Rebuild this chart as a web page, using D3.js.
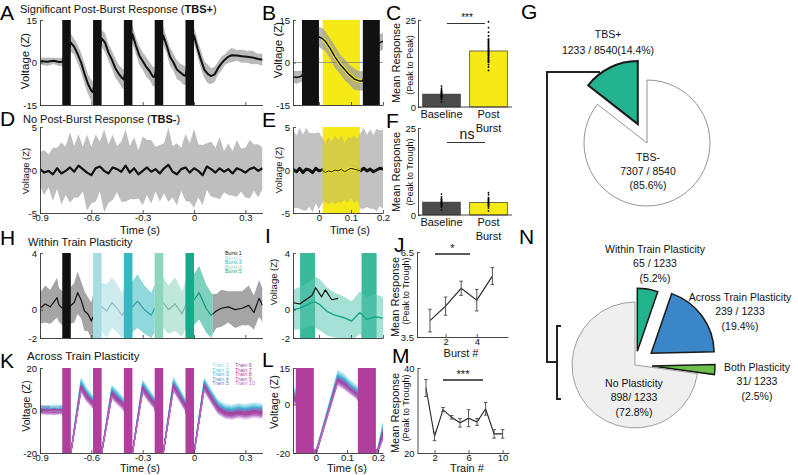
<!DOCTYPE html>
<html>
<head>
<meta charset="utf-8">
<script src="https://cdn.jsdelivr.net/npm/d3@7"></script>
<style>
  body { margin: 0; background: #fff; }
  svg { font-family: "Liberation Sans", Arial, sans-serif; }
</style>
</head>
<body>
<svg id="fig" width="798" height="475"></svg>
<script>
// ---------- data ----------
var burstStarts = [-0.77, -0.59, -0.41, -0.23, -0.05];
var burstWidth = 0.05;
var xTicksLong = [-0.9, -0.6, -0.3, 0, 0.3];
var xTicksShort = [0, 0.1, 0.2];

// A: TBS+ mean trace and spread of single traces
var aTime = [-0.9,-0.86,-0.82,-0.79,-0.77,-0.745,-0.72,-0.7,-0.68,-0.66,-0.64,-0.62,-0.6,-0.59,-0.565,-0.54,-0.52,-0.5,-0.48,-0.46,-0.44,-0.42,-0.41,-0.385,-0.36,-0.34,-0.32,-0.3,-0.28,-0.26,-0.24,-0.23,-0.205,-0.18,-0.16,-0.14,-0.12,-0.1,-0.08,-0.06,-0.05,-0.025,0,0.02,0.04,0.06,0.08,0.1,0.12,0.14,0.16,0.18,0.2,0.22,0.25,0.28,0.31,0.34,0.37,0.4];
var aMean = [0.5,0.3,0.6,0.2,0.3, 3,7,5.5,3,0, -4,-7.5,-10,-10.5,0, 8.5,7,3.5,1,-2, -4,-5.5,-6,2,10, 6,2.5,0.5,-1.5,-3, -5,-5,2,9.5,6, 2,0,-2.5,-3.5,-4.5, -4.7,2,9.5,5,1, -2.5,-4,-4.8,-4.2,-2, -0.3,1,2,2.6,2.5, 2.2,2,1.8,1.3,1];
var aSpread = [1.2,1.5,1.1,1.4,1.5, 3,3.2,2.8,3.3,3.4, 3.7,3.4,3.9,3.8,3, 3,3.3,2.9,3.2,3.4, 3.1,3.5,3.4,3,3.2, 2.9,3.3,3.1,3.4,3.2, 3.5,3.3,3,3.1,2.9, 3.2,3,3.3,3.1,3.4, 3.2,3,3.1,2.9,3.2, 3,3.3,2.8,2.7,2.3, 2.4,1.9,2.2,2.5,1.9, 2.3,2.1,2.4,1.8,2.2];

// B: zoom on last burst
var bBarStarts = [-0.053, 0.137];
var bBarWidth = 0.053;
var yellowWin = [0.012, 0.128];
var bTime = [-0.081,-0.07,-0.06,-0.053,-0.03,0,0.01,0.02,0.035,0.05,0.065,0.08,0.095,0.11,0.125,0.137,0.16,0.19,0.2];
var bMean = [-5,-5.3,-5,-4.8,3,9,8.5,7.5,5,2,-0.5,-2.5,-4.3,-5.8,-6.5,-6.5,2,7,7.5];
var bSpread = [2,2.3,2,2,3,3.5,3.8,3.4,3.6,3.9,3.4,3.7,3.5,3.8,3.4,3.5,3,3,3];

// C / F: bar charts
var barCats = ["Baseline", "Post Burst"];
var cMeans = [3.7, 16.1];
var cErr = [1.2, 3.5];
var cBaseDots = [1.5,2.2,2.6,3.0,3.3,3.6,3.9,4.2,4.5,4.9,5.4,6.0];
var cPostDots = [10.5,11.5,12.2,13,13.6,14.2,14.8,15.3,15.8,16.3,16.8,17.4,18,18.7,19.5,20.4,21.5,22.8,24.5];
var fMeans = [3.7, 3.6];
var fErr = [1.3, 1.4];
var fBaseDots = [1.5,2.3,2.8,3.2,3.6,4.0,4.5,5.2,6.0];
var fPostDots = [1.2,2.0,2.7,3.1,3.5,3.9,4.4,5.0,5.8,6.4];

// D: TBS- mean trace
var dTime = [-0.9,-0.875,-0.85,-0.825,-0.8,-0.775,-0.75,-0.725,-0.7,-0.675,-0.65,-0.625,-0.6,-0.575,-0.55,-0.525,-0.5,-0.475,-0.45,-0.425,-0.4,-0.375,-0.35,-0.325,-0.3,-0.275,-0.25,-0.225,-0.2,-0.175,-0.15,-0.125,-0.1,-0.075,-0.05,-0.025,0,0.025,0.05,0.075,0.1,0.125,0.15,0.175,0.2,0.225,0.25,0.275,0.3,0.325,0.35,0.375,0.4];
var dMean = [0.1,-0.3,-0.1,-0.5,0.2,-0.4,-0.1,0.3,-0.2,0.5, 0.1,-0.3,-0.6,0.2,0.4,-0.1,-0.4,0.3,0.1,-0.2, 0.5,-0.3,0.2,-0.5,-0.1,0.3,-0.2,0.1,-0.4,0.2, 0.6,-0.2,-0.5,0.1,0.3,-0.3,0.2,-0.1,-0.6,0.4, 0.1,-0.3,0.2,-0.2,0.1,-0.4,0.2,0,-0.3,0.1, 0.3,-0.1,0.2];
var dSpread = [2.0,2.6,1.9,3.1,2.4,3.6,2.8,4.1,3.0,3.7, 2.6,4.4,3.3,3.9,2.9,4.8,3.4,3.8,2.7,3.5, 4.2,3.1,3.6,2.8,4.0,3.2,3.7,2.6,3.3,2.9, 4.3,3.0,3.6,2.5,3.9,3.4,4.6,3.1,3.5,2.7, 3.2,2.9,3.6,2.4,3.0,2.6,3.3,2.5,2.9,3.4, 2.7,3.1,2.4];

// E
var eTime = [-0.081,-0.07,-0.06,-0.05,-0.04,-0.03,-0.02,-0.01,0,0.01,0.02,0.03,0.04,0.05,0.06,0.07,0.08,0.09,0.1,0.11,0.12,0.13,0.14,0.15,0.16,0.17,0.18,0.19,0.2];
var eMean = [0.1,-0.2,0.2,-0.3,0.1,0,-0.3,0.2,-0.1,0,-0.3,-0.1,-0.2,0,-0.1,0.1,-0.2,0,0.2,0.1,0,-0.1,0.2,-0.1,0.1,-0.2,0,0.2,0.1];
var eSpread = [4.6,4.2,4.7,4.4,4.8,4.3,4.6,4.1,4.5,3.8,3.4,3.9,3.5,4.0,3.6,3.9,3.3,3.8,3.5,3.9,3.6,4.4,4.7,4.2,4.6,4.3,4.8,4.4,4.6];

// H: within-train
var burstNames = ["Burst 1","Burst 2","Burst 3","Burst 4","Burst 5"];
var burstColors = ["#111111","#a6dde3","#35b8c0","#8dd6bc","#16ab88"];
var hSegEdges = [-0.9, -0.59, -0.41, -0.23, -0.05, 0.11, 0.4];
var hSegBurst = [0, 1, 2, 3, 4, 0];
var hTime = [-0.9,-0.87,-0.84,-0.8,-0.79,-0.77,-0.72,-0.7,-0.68,-0.66,-0.64,-0.62,-0.6,-0.59,-0.54,-0.51,-0.48,-0.45,-0.42,-0.41,-0.36,-0.33,-0.29,-0.25,-0.23,-0.18,-0.15,-0.11,-0.07,-0.05,0,0.03,0.07,0.1,0.11,0.13,0.16,0.2,0.24,0.28,0.32,0.35,0.38,0.4];
var hMean = [0.1,0.4,0.2,0.85,0.35,0.1,0.3,0.5,1.2,0.7,-0.1,-0.3,-0.8,-0.5,0.2,-0.1,0.5,0.1,-0.4,-0.2,0.2,0.6,0,-0.4,0.1,0.5,0,0.4,-0.3,0.3,0.7,1.2,0.1,-0.4,-0.3,-0.1,0.1,0.2,0,0.1,0.3,-0.2,0.8,0.3];
var hSpread = [1.1,1.3,1.2,1.4,1.2,1.2,1.3,1.4,1.5,1.3,1.4,1.2,1.3,1.6, 1.7,1.9,1.8,1.7,1.6,1.7, 1.8,1.9,1.7,1.6,1.7, 1.8,1.7,1.9,1.6,1.7, 1.8,1.9,1.7,1.6,1.4, 1.2,1.3,1.1,1.3,1.2,1.4,1.2,1.3,1.2];

// I
var iBarStarts = [-0.059, 0.133];
var iBarWidth = 0.047;
var iTime = [-0.081,-0.06,-0.022,-0.0125,0.003,0.024,0.045,0.076,0.102,0.128,0.149,0.175,0.2];
var iTeal = [0,0.1,0.5,0.55,0.35,-0.1,-0.35,-0.55,-0.8,-0.2,-0.7,-0.5,-0.6];
var iSpread = [1.4,1.5,1.6,1.8,1.8,1.7,1.6,1.5,1.4,1.5,1.6,1.6,1.5];
var iBlackTime = [-0.081,-0.06,-0.022,-0.01,0.008,0.02,0.04,0.06];
var iBlack = [0.5,0.4,1.0,1.55,0.9,1.4,0.7,0.8];

// J
var jBurst = [1,2,3,4,5];
var jMean = [4.08,4.59,5.22,4.8,5.65];
var jErr = [0.4,0.32,0.25,0.38,0.3];

// K: across-train
var trainNames = ["Train 1","Train 2","Train 3","Train 4","Train 5","Train 6","Train 7","Train 8","Train 9","Train 10"];
var trainColors = ["#8fdcea","#5fc6de","#47aed3","#5b90cb","#7a7cc4","#8e4fa8","#a8409e","#ba3f98","#9a55ae","#b46ec6"];
var kTime = [-0.9,-0.86,-0.82,-0.77,-0.72,-0.66,-0.63,-0.59,-0.54,-0.48,-0.45,-0.41,-0.36,-0.30,-0.27,-0.23,-0.18,-0.12,-0.09,-0.05,0,0.06,0.1,0.14,0.18,0.22,0.26,0.3,0.35,0.4];
var kTrain1 = [1.5,0.5,1.8,1.2,-20,14.5,10,6,-20,11,8.5,5,-20,13.5,10,5.5,-20,15,10.5,4.5,-20,14.5,9,4,2,1.5,2.2,1.8,2.5,2];
var kTrain2 = [1,1.2,0.6,1.5,-20,14,9.5,5.5,-20,10.5,8,4.5,-20,13,9.5,5,-20,14,10,4,-20,14,8.5,3.5,1.5,1,1.8,1.2,2,1.6];
var kTrain3 = [0.5,1,0.3,0.8,-20,13,9,5,-20,10,7.5,4,-20,12.5,9,4.5,-20,13.5,9.5,3.5,-20,13.5,8,3,1,0.5,1.2,0.8,1.5,1];
var kTrain4 = [1.2,0.2,0.9,0.4,-20,12.5,8.5,4.5,-20,9.5,7,3.5,-20,12,8.5,4,-20,13,9,3,-20,13,7.5,2.5,0.5,0,0.8,0.2,1,0.6];
var kTrain5 = [0.3,0.8,0.1,0.6,-20,12,8,4.5,-20,9,6.5,3.5,-20,11.5,8,4,-20,12.5,8.5,3,-20,12.5,7,2,0,-0.5,0.3,-0.2,0.5,0.2];
var kTrain6 = [0.8,-0.2,0.5,0,-20,11.5,7.5,4,-20,8.5,6,3,-20,11,7.5,3.5,-20,12,8,2.5,-20,12,6.5,1.5,-0.5,-1,-0.3,-0.8,0,-0.4];
var kTrain7 = [-0.2,0.5,-0.5,0.3,-20,11,7,3.5,-20,8,5.5,2.5,-20,10.5,7,3,-20,11.5,7.5,2,-20,11.5,6,1,-1,-1.5,-0.8,-1.2,-0.5,-1];
var kTrain8 = [0.4,-0.6,0.2,-0.3,-20,10.5,6.5,3,-20,7.5,5,2,-20,10,6.5,2.5,-20,11,7,1.5,-20,11,5.5,0.5,-1.5,-2,-1.2,-1.8,-1,-1.5];
var kTrain9 = [-0.5,0.2,-0.8,0,-20,10,6,2.5,-20,7,4.5,1.5,-20,9.5,6,2,-20,10.5,6.5,1,-20,10.5,5,0,-2,-2.5,-1.8,-2.3,-1.5,-2];
var kTrain10 = [0,-0.8,-0.3,-0.5,-20,9.5,5.5,2,-20,6.5,4,1,-20,9,5.5,1.5,-20,10,6,0.5,-20,10,4.5,-0.5,-2.5,-3,-2.2,-2.8,-2,-2.5];
var kTrains = [kTrain1,kTrain2,kTrain3,kTrain4,kTrain5,kTrain6,kTrain7,kTrain8,kTrain9,kTrain10];
var kSpread = 1.5;

// L
var lBarStarts = [-0.065, 0.135];
var lBarWidth = 0.058;
var lTime = [-0.074,-0.065,-0.01,0,0.07,0.09,0.11,0.135,0.16,0.197,0.216];
var lTrains = [
  [6,5.5,-20,-20,13,11.5,9,6.5,-20,-20,-8],
  [5.5,5,-20,-20,12.5,11,8.5,6,-20,-20,-8.5],
  [5,4.5,-20,-20,12,10.5,8,5.5,-20,-20,-9],
  [4.5,4,-20,-20,11.5,10,7.5,5,-20,-20,-10],
  [4,3.5,-20,-20,11,9.5,7,4.5,-20,-20,-10.5],
  [3.5,3,-20,-20,10.5,9,6.5,4,-20,-20,-11],
  [3,2.5,-20,-20,10,8.5,6.5,4,-20,-20,-12],
  [2.5,2,-20,-20,10,8,6,3.5,-20,-20,-12.5],
  [2,1.5,-20,-20,9.5,8,6,3.5,-20,-20,-13],
  [1.5,1,-20,-20,9,7.5,5.5,3,-20,-20,-14]
];

// M
var mTrain = [1,2,3,4,5,6,7,8,9,10];
var mMean = [35.3,23.9,30.2,28.4,27.1,28.2,27.3,30.4,24.5,24.5];
var mErr = [2,1,0.5,0.4,1,2,0.8,1.5,1,1];

// G / N pies
var gNames = ["TBS+", "TBS-"];
var gCounts = [1233, 7307];
var gPct = ["14.4%", "85.6%"];
var nNames = ["Within Train Plasticity", "Across Train Plasticity", "Both Plasticity", "No Plasticity"];
var nCounts = [65, 239, 31, 898];
var nPct = ["5.2%", "19.4%", "2.5%", "72.8%"];

// ---------- drawing helpers ----------
var fig = d3.select("#fig");
var defs = fig.append("defs");
var clipN = 0;

function panel(xDom, xRng, yDom, yRng) {
  var p = {
    x: d3.scaleLinear().domain(xDom).range(xRng),
    y: d3.scaleLinear().domain(yDom).range(yRng)
  };
  var id = "clip" + (clipN++);
  defs.append("clipPath").attr("id", id).append("rect")
    .attr("x", xRng[0]).attr("y", yRng[1])
    .attr("width", xRng[1] - xRng[0]).attr("height", yRng[0] - yRng[1]);
  p.g = fig.append("g");
  p.plot = p.g.append("g").attr("clip-path", "url(#" + id + ")");
  p.top = yRng[1];
  p.h = yRng[0] - yRng[1];
  return p;
}

function styleAxis(a) {
  a.attr("font-family", null).attr("font-size", null);
  a.select(".domain").attr("stroke", "#333").attr("stroke-width", 0.9);
  a.selectAll(".tick line").attr("stroke", "#333").attr("stroke-width", 0.8);
  a.selectAll(".tick text").attr("font-size", 9.5).attr("fill", "#111");
}

function axes(p, yTicks, xTicks, showX) {
  var ya = d3.axisLeft(p.y).tickValues(yTicks).tickSize(-3).tickSizeOuter(0).tickPadding(3)
    .tickFormat(function(d) { return String(d); });
  styleAxis(p.g.append("g").attr("transform", "translate(" + p.x.range()[0] + ",0)").call(ya));
  var xa = d3.axisBottom(p.x).tickValues(xTicks).tickSize(-3).tickSizeOuter(0).tickPadding(1.5)
    .tickFormat(function(d) { return showX ? String(d) : ""; });
  styleAxis(p.g.append("g").attr("transform", "translate(0," + p.y.range()[0] + ")").call(xa));
}

function pts(ts, vals, spread) {
  return ts.map(function(t, i) {
    return { t: t, v: vals[i], s: spread == null ? 0 : (typeof spread === "number" ? spread : spread[i]) };
  });
}

function band(p, data, fill, op) {
  p.plot.append("path").datum(data)
    .attr("d", d3.area().x(function(d) { return p.x(d.t); })
      .y0(function(d) { return p.y(d.v - d.s); }).y1(function(d) { return p.y(d.v + d.s); }))
    .attr("fill", fill).attr("opacity", op);
}

function line(p, data, stroke, w) {
  return p.plot.append("path").datum(data)
    .attr("d", d3.line().x(function(d) { return p.x(d.t); }).y(function(d) { return p.y(d.v); }))
    .attr("fill", "none").attr("stroke", stroke).attr("stroke-width", w)
    .attr("stroke-linejoin", "round");
}

function bars(p, starts, width, fill, op) {
  p.plot.append("g").selectAll("rect").data(starts).join("rect")
    .attr("x", function(d) { return p.x(d); })
    .attr("width", function(d) { return p.x(d + width) - p.x(d); })
    .attr("y", p.top).attr("height", p.h)
    .attr("fill", fill).attr("opacity", op == null ? 1 : op);
}

function window_(p, win, fill, op) {
  p.plot.append("rect").attr("x", p.x(win[0])).attr("width", p.x(win[1]) - p.x(win[0]))
    .attr("y", p.top).attr("height", p.h).attr("fill", fill).attr("opacity", op == null ? 1 : op);
}

function label(x, y, s, size, anchor, fill, weight) {
  return fig.append("text").attr("x", x).attr("y", y).attr("font-size", size)
    .attr("text-anchor", anchor || "start").attr("fill", fill || "#111")
    .attr("font-weight", weight || "normal").text(s);
}

function vlabel(x, y, s, size) {
  return fig.append("text").attr("transform", "translate(" + x + "," + y + ") rotate(-90)")
    .attr("font-size", size).attr("text-anchor", "middle").attr("fill", "#111").text(s);
}

function letter(x, y, s) { return label(x, y, s, 21, "start", "#000"); }

var YELLOW = "#f6ea16";
var MAGENTA = "#b13d9c";

// ---------- A ----------
var pA = panel([-0.9, 0.4], [40, 262.5], [-15, 15], [105, 20]);
band(pA, pts(aTime, aMean, aSpread), "#a2a2a2", 0.75);
line(pA, pts(aTime, aMean), "#111", 2);
bars(pA, burstStarts, burstWidth, "#111");
axes(pA, [-15, 0, 15], xTicksLong, false);
letter(0, 20, "A");
var tA = label(20, 13, "Significant Post-Burst Response (", 11);
tA.append("tspan").attr("font-weight", "bold").text("TBS+");
tA.append("tspan").text(")");
vlabel(29, 61, "Voltage (Z)", 11.5);

// ---------- B ----------
var pB = panel([-0.081, 0.2], [293, 383], [-15, 15], [105, 20]);
window_(pB, yellowWin, YELLOW);
band(pB, pts(bTime, bMean, bSpread), "#9d9d9d", 0.75);
pB.plot.append("line").attr("x1", 293).attr("x2", 383).attr("y1", pB.y(0)).attr("y2", pB.y(0))
  .attr("stroke", "#888").attr("stroke-width", 0.8);
var bIn = pts(bTime, bMean).filter(function(d) { return d.t >= yellowWin[0] - 0.01 && d.t <= yellowWin[1] + 0.01; });
line(pB, bIn, YELLOW, 3.5);
line(pB, pts(bTime, bMean), "#111", 1.5);
bars(pB, bBarStarts, bBarWidth, "#111");
axes(pB, [-15, 0, 15], xTicksShort, false);
letter(262, 20, "B");
vlabel(282, 50, "Voltage (Z)", 11.5);

// ---------- C / F bar charts ----------
function barChart(yRng, means, errs, baseDots, postDots, top) {
  var x = d3.scaleBand().domain(barCats).range([418, 512]).paddingInner(0.2).paddingOuter(0.1);
  var y = d3.scaleLinear().domain([0, 25]).range(yRng);
  var g = fig.append("g");
  var colors = ["#4b4b4b", YELLOW];
  g.selectAll("rect").data(barCats).join("rect")
    .attr("x", function(d) { return x(d); }).attr("width", x.bandwidth())
    .attr("y", function(d, i) { return y(means[i]); })
    .attr("height", function(d, i) { return y(0) - y(means[i]); })
    .attr("fill", function(d, i) { return colors[i]; })
    .attr("stroke", "#333").attr("stroke-width", 0.7);
  [baseDots, postDots].forEach(function(dots, i) {
    var cx = x(barCats[i]) + x.bandwidth() / 2;
    g.append("line").attr("x1", cx).attr("x2", cx)
      .attr("y1", y(means[i] - errs[i])).attr("y2", y(means[i] + errs[i]))
      .attr("stroke", "#000").attr("stroke-width", 1.6);
    g.selectAll(".dot" + i).data(dots).join("circle").attr("class", "dot" + i)
      .attr("cx", cx).attr("cy", function(d) { return y(d); }).attr("r", 0.9).attr("fill", "#000");
  });
  var ya = d3.axisLeft(y).tickValues([0, 25]).tickSize(-3).tickSizeOuter(0).tickPadding(2);
  styleAxis(g.append("g").attr("transform", "translate(418,0)").call(ya));
  g.append("line").attr("x1", 418).attr("x2", 512).attr("y1", y(0)).attr("y2", y(0))
    .attr("stroke", "#333").attr("stroke-width", 0.9);
  barCats.forEach(function(c, i) {
    var cx = x(c) + x.bandwidth() / 2;
    c.split(" ").forEach(function(w, k) {
      label(cx, y(0) + 11 + k * 13.5, w, 11, "middle");
    });
  });
  g.append("line").attr("x1", 447).attr("x2", 485).attr("y1", top).attr("y2", top)
    .attr("stroke", "#333").attr("stroke-width", 1);
  return y;
}
barChart([107, 20], cMeans, cErr, cBaseDots, cPostDots, 23.5);
label(467, 21, "***", 10, "middle");
letter(386, 20, "C");
vlabel(400, 63, "Mean Response", 11);
vlabel(413, 65, "(Peak to Peak)", 9);

barChart([215, 128], fMeans, fErr, fBaseDots, fPostDots, 142.5);
label(467, 139, "ns", 14, "middle");
letter(386, 128, "F");
vlabel(400, 172, "Mean Response", 11);
vlabel(413, 172, "(Peak to Trough)", 9);

// ---------- D ----------
var pD = panel([-0.9, 0.4], [40, 262.5], [-5, 5], [213, 127]);
band(pD, pts(dTime, dMean, dSpread), "#a8a8a8", 0.75);
line(pD, pts(dTime, dMean), "#111", 2.2);
axes(pD, [-5, 0, 5], xTicksLong, true);
letter(0, 126, "D");
var tD = label(23, 123, "No Post-Burst Response (", 11);
tD.append("tspan").attr("font-weight", "bold").text("TBS-");
tD.append("tspan").text(")");
vlabel(28.5, 171, "Voltage (Z)", 9.5);
label(140, 234, "Time (s)", 11, "middle");

// ---------- E ----------
var pE = panel([-0.081, 0.2], [293, 383], [-5, 5], [213, 127]);
window_(pE, yellowWin, YELLOW);
band(pE, pts(eTime, eMean, eSpread), "#9a9a9a", 0.6);
window_(pE, yellowWin, YELLOW, 0.4);
var eAll = pts(eTime, eMean);
line(pE, eAll.filter(function(d) { return d.t <= yellowWin[0] + 0.01; }), "#111", 3);
line(pE, eAll.filter(function(d) { return d.t >= yellowWin[1] - 0.01; }), "#111", 3);
line(pE, eAll.filter(function(d) { return d.t >= yellowWin[0] - 0.01 && d.t <= yellowWin[1] + 0.01; }), YELLOW, 3);
line(pE, eAll.filter(function(d) { return d.t >= yellowWin[0] - 0.01 && d.t <= yellowWin[1] + 0.01; }), "#111", 1);
axes(pE, [-5, 0, 5], xTicksShort, true);
letter(262, 127, "E");
vlabel(282, 170, "Voltage (Z)", 9.5);
label(350, 234, "Time (s)", 11, "middle");

// ---------- H ----------
var pH = panel([-0.9, 0.4], [40, 262.5], [-2, 4], [338, 253]);
var hAll = pts(hTime, hMean, hSpread);
hSegBurst.forEach(function(b, k) {
  var seg = hAll.filter(function(d) { return d.t >= hSegEdges[k] && d.t <= hSegEdges[k + 1]; });
  band(pH, seg, b === 0 ? "#8e8e8e" : burstColors[b], b === 0 ? 0.8 : 0.55);
});
hSegBurst.forEach(function(b, k) {
  var seg = hAll.filter(function(d) { return d.t >= hSegEdges[k] && d.t <= hSegEdges[k + 1]; });
  line(pH, seg, b === 0 ? "#111" : d3.color(burstColors[b]).darker(0.4), 1.2);
});
pH.plot.append("g").selectAll("rect").data(burstStarts).join("rect")
  .attr("x", function(d) { return pH.x(d); })
  .attr("width", function(d) { return pH.x(d + burstWidth) - pH.x(d); })
  .attr("y", pH.top).attr("height", pH.h)
  .attr("fill", function(d, i) { return burstColors[i]; });
axes(pH, [-2, 0, 4], xTicksLong, false);
letter(0, 245, "H");
label(28, 246, "Within Train Plasticity", 11);
burstNames.forEach(function(n, i) {
  label(225, 255 + i * 4.6, n, 5.3, "start", burstColors[i]);
});

// ---------- I ----------
var pI = panel([-0.081, 0.2], [293, 383], [-2, 4], [338, 253]);
bars(pI, iBarStarts, iBarWidth, burstColors[4], 0.85);
band(pI, pts(iTime, iTeal, iSpread), "#5cc9b4", 0.55);
line(pI, pts(iBlackTime, iBlack), "#111", 1.2);
line(pI, pts(iTime, iTeal), "#16a58c", 1.4);
axes(pI, [-2, 0, 4], xTicksShort, false);
label(265, 243, "I", 21, "start", "#000");
vlabel(277, 282, "Voltage (Z)", 9.5);

// ---------- J ----------
var pJ = panel([0.17, 6.0], [417, 508], [3.5, 6.5], [337, 252]);
var jg = pJ.g.append("g");
jg.append("path").datum(jBurst)
  .attr("d", d3.line().x(function(d) { return pJ.x(d); }).y(function(d, i) { return pJ.y(jMean[i]); }))
  .attr("fill", "none").attr("stroke", "#222").attr("stroke-width", 1.1);
jg.selectAll(".eb").data(jBurst).join("path").attr("class", "eb")
  .attr("d", function(d, i) {
    var cx = pJ.x(d), y1 = pJ.y(jMean[i] - jErr[i]), y2 = pJ.y(jMean[i] + jErr[i]);
    return "M" + cx + "," + y1 + "V" + y2 + "M" + (cx - 1.8) + "," + y1 + "h3.6M" + (cx - 1.8) + "," + y2 + "h3.6";
  })
  .attr("stroke", "#555").attr("stroke-width", 1).attr("fill", "none");
axes(pJ, [3.5, 6.5], [2, 4], true);
jg.append("line").attr("x1", 435).attr("x2", 470).attr("y1", 254).attr("y2", 254).attr("stroke", "#222").attr("stroke-width", 1.6);
label(452.5, 252, "*", 11, "middle");
letter(394, 252, "J");
vlabel(399, 297, "Mean Response", 11);
vlabel(409, 291, "(Peak to Trough)", 9);
label(461, 357, "Burst #", 11, "middle");

// ---------- K ----------
var pK = panel([-0.9, 0.4], [40, 262.5], [-20, 20], [453, 368]);
kTrains.forEach(function(tr, i) {
  band(pK, pts(kTime, tr, kSpread), trainColors[i], 0.3);
});
kTrains.forEach(function(tr, i) {
  line(pK, pts(kTime, tr), trainColors[i], 1.2);
});
bars(pK, burstStarts, burstWidth, MAGENTA);
axes(pK, [-20, 0, 20], xTicksLong, true);
letter(0, 368, "K");
label(27, 360, "Across Train Plasticity", 11.5);
vlabel(30, 406, "Voltage (Z)", 10.5);
label(140, 472, "Time (s)", 11, "middle");
trainNames.forEach(function(n, i) {
  label(i < 5 ? 212 : 235, 367 + (i % 5) * 4.6, n, 5.5, "start", trainColors[i]);
});

// ---------- L ----------
var pL = panel([-0.074, 0.216], [293, 383], [-20, 15], [453, 368]);
lTrains.forEach(function(tr, i) {
  band(pL, pts(lTime, tr, kSpread), trainColors[i], 0.3);
});
lTrains.forEach(function(tr, i) {
  line(pL, pts(lTime, tr), trainColors[i], 1.1);
});
bars(pL, lBarStarts, lBarWidth, MAGENTA);
axes(pL, [-20, 0, 15], xTicksShort, true);
letter(262, 367, "L");
vlabel(278, 402, "Voltage (Z)", 11);
label(347, 472, "Time (s)", 11, "middle");

// ---------- M ----------
var pM = panel([0, 10.75], [417.5, 509], [20, 40], [453, 368]);
var mg = pM.g.append("g");
mg.append("path").datum(mTrain)
  .attr("d", d3.line().x(function(d) { return pM.x(d); }).y(function(d, i) { return pM.y(mMean[i]); }))
  .attr("fill", "none").attr("stroke", "#222").attr("stroke-width", 1.1);
mg.selectAll(".eb").data(mTrain).join("path").attr("class", "eb")
  .attr("d", function(d, i) {
    var cx = pM.x(d), y1 = pM.y(mMean[i] - mErr[i]), y2 = pM.y(mMean[i] + mErr[i]);
    return "M" + cx + "," + y1 + "V" + y2 + "M" + (cx - 1.8) + "," + y1 + "h3.6M" + (cx - 1.8) + "," + y2 + "h3.6";
  })
  .attr("stroke", "#555").attr("stroke-width", 1).attr("fill", "none");
axes(pM, [20, 40], [2, 6, 10], true);
mg.append("line").attr("x1", 443).attr("x2", 483).attr("y1", 380).attr("y2", 380).attr("stroke", "#222").attr("stroke-width", 1.6);
label(463, 378, "***", 11, "middle");
letter(392, 363, "M");
vlabel(399, 413, "Mean Response", 11);
vlabel(409, 408, "(Peak to Trough)", 9);
label(467, 472, "Train #", 11, "middle");

// ---------- G pie ----------
var gTotal = d3.sum(gCounts);
var gStart = -2 * Math.PI * gCounts[0] / gTotal;
var gPie = d3.pie().sort(null).startAngle(gStart).endAngle(gStart + 2 * Math.PI)(gCounts);
var gArc = d3.arc().innerRadius(0).outerRadius(63);
var gc = [647, 143];
var gExplode = [21, 0];
var gFill = ["#23b38e", "#ffffff"];
var gStroke = ["#1a1a1a", "#777"];
var gSW = [2, 0.8];
var gg = fig.append("g");
// bracket lines joining the two pies
gg.append("path").attr("d", "M600,72H547V362H557M561,326H557V399H561")
  .attr("fill", "none").attr("stroke", "#222").attr("stroke-width", 2);
gg.selectAll("path.slice").data(gPie).join("path").attr("class", "slice")
  .attr("transform", function(d, i) {
    var a = (d.startAngle + d.endAngle) / 2;
    return "translate(" + (gc[0] + gExplode[i] * Math.sin(a)) + "," + (gc[1] - gExplode[i] * Math.cos(a)) + ")";
  })
  .attr("d", gArc).attr("fill", function(d, i) { return gFill[i]; })
  .attr("stroke", function(d, i) { return gStroke[i]; })
  .attr("stroke-width", function(d, i) { return gSW[i]; });
label(608, 38, gNames[0], 10.5, "middle");
label(608, 54, gCounts[0] + " / " + gTotal + "(" + gPct[0] + ")", 10.5, "middle");
label(648, 161, gNames[1], 10.5, "middle");
label(648, 175, gCounts[1] + " / " + gTotal, 10.5, "middle");
label(648, 189, "(" + gPct[1] + ")", 10.5, "middle");
letter(521, 19, "G");

// ---------- N pie ----------
var nTotal = d3.sum(nCounts);
var nPie = d3.pie().sort(null).startAngle(0).endAngle(2 * Math.PI)(nCounts);
var nArc = d3.arc().innerRadius(0).outerRadius(63);
var nc = [635, 365];
var nExplode = [14, 20, 17, 0];
var nFill = ["#22b28c", "#3b86c8", "#6cbf4a", "#efefef"];
var nStroke = ["#1a1a1a", "#1a1a1a", "#1a1a1a", "#888"];
var nSW = [1.5, 1.5, 1.5, 0.8];
gg.selectAll("path.nslice").data(nPie).join("path").attr("class", "nslice")
  .attr("transform", function(d, i) {
    var a = (d.startAngle + d.endAngle) / 2;
    return "translate(" + (nc[0] + nExplode[i] * Math.sin(a)) + "," + (nc[1] - nExplode[i] * Math.cos(a)) + ")";
  })
  .attr("d", nArc).attr("fill", function(d, i) { return nFill[i]; })
  .attr("stroke", function(d, i) { return nStroke[i]; })
  .attr("stroke-width", function(d, i) { return nSW[i]; });
var nLabelPos = [[655, 253], [740, 301], [757, 371], [634, 387]];
var nSep = [" / ", " / ", "/ ", "/ "];
nNames.forEach(function(n, i) {
  var p = nLabelPos[i];
  label(p[0], p[1], n, 10.5, "middle");
  label(p[0], p[1] + 14.3, nCounts[i] + nSep[i] + nTotal, 10.5, "middle");
  label(p[0], p[1] + 28.6, "(" + nPct[i] + ")", 10.5, "middle");
});
letter(519, 244, "N");
</script>
</body>
</html>
